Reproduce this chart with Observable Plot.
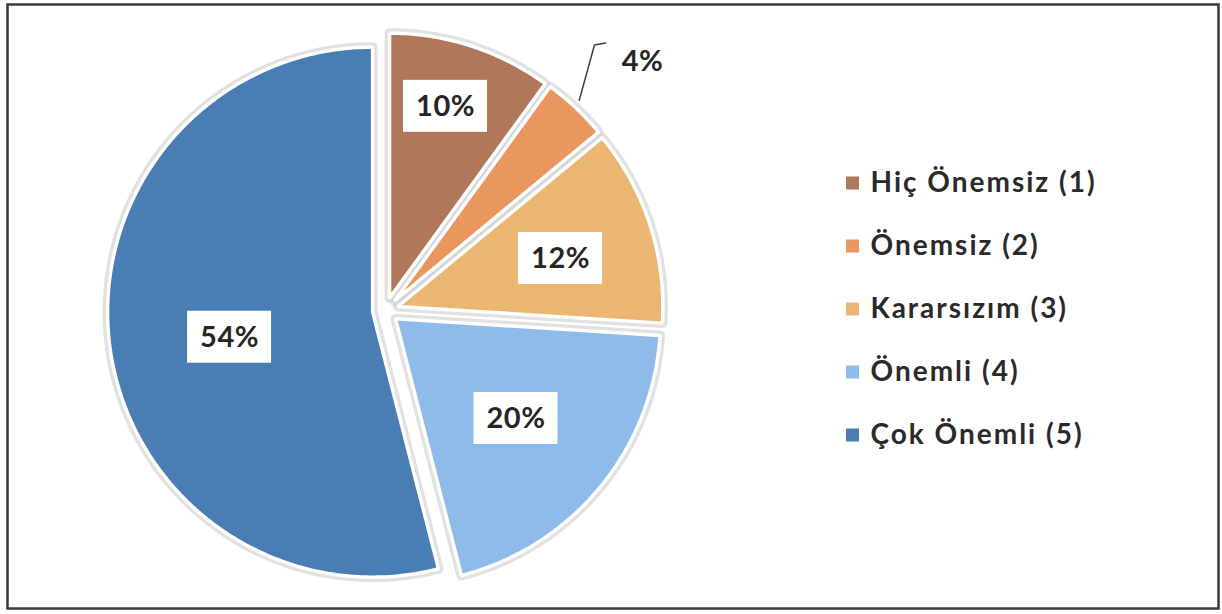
<!DOCTYPE html>
<html>
<head>
<meta charset="utf-8">
<script src="https://cdn.jsdelivr.net/npm/d3@7"></script>
<script src="https://cdn.jsdelivr.net/npm/@observablehq/plot@0.6"></script>
<style>
  html, body { margin: 0; padding: 0; background: #ffffff; }
  #chart svg { display: block; }
</style>
</head>
<body>
<div id="chart"></div>
<script>
// ---- Data ----
const categories = ["Hiç Önemsiz (1)", "Önemsiz (2)", "Kararsızım (3)", "Önemli (4)", "Çok Önemli (5)"];
const values = [10, 4, 12, 20, 54];
const valueLabels = ["10%", "4%", "12%", "20%", "54%"];
const colors = ["#b0775a", "#e9975f", "#eab671", "#8fbbea", "#4a7db3"];

// ---- Layout ----
const W = 1222, H = 614;
const cx = 385, cy = 310, R = 265, explode = 13;
const labelRadius = [0.754, null, 0.64, 0.59, 0.548]; // fraction of radius for inside labels
const labelTurn = [-0.03, 0, 0.027, 0, -0.048];       // small angular nudges (radians)
const FONT = "Lato, 'Open Sans', sans-serif";

const arcs = d3.pie().sort(null).value(d => d)(values);

const slicePoints = [];
const sliceInfo = arcs.map((a, i) => {
  const mid = (a.startAngle + a.endAngle) / 2;
  const ox = cx + explode * Math.sin(mid);
  const oy = cy - explode * Math.cos(mid);
  const cat = categories[i];
  slicePoints.push({cat, x: ox, y: oy});
  const n = Math.max(6, Math.ceil((a.endAngle - a.startAngle) / 0.015));
  for (let k = 0; k <= n; k++) {
    const t = a.startAngle + (a.endAngle - a.startAngle) * k / n;
    slicePoints.push({cat, x: ox + R * Math.sin(t), y: oy - R * Math.cos(t)});
  }
  return {cat, mid, ox, oy, label: valueLabels[i]};
});

// inside labels
const insideLabels = sliceInfo
  .map((s, i) => ({...s, f: labelRadius[i], t: s.mid + labelTurn[i]}))
  .filter(s => s.f != null)
  .map(s => ({label: s.label, x: s.ox + s.f * R * Math.sin(s.t), y: s.oy - s.f * R * Math.cos(s.t)}));

// outside label for the small slice
const small = sliceInfo[1];
const outX = small.ox + 1.30 * R * Math.sin(small.mid + 0.05);
const outY = small.oy - 1.30 * R * Math.cos(small.mid + 0.05);
const outsideLabels = [{label: small.label, x: outX, y: outY}];
const leaderStart = {x: small.ox + 1.03 * R * Math.sin(small.mid - 0.01), y: small.oy - 1.03 * R * Math.cos(small.mid - 0.01)};
const leader = [
  leaderStart,
  {x: outX - 48, y: outY - 17},
  {x: outX - 37, y: outY - 19}
];

// legend
const legendRows = categories.map((c, i) => ({cat: c, y: 183 + i * 63}));

const boxW = 84, boxH = 52;

const chart = Plot.plot({
  width: W,
  height: H,
  margin: 0,
  x: {domain: [0, W], range: [0, W], axis: null},
  y: {domain: [0, H], range: [0, H], axis: null},
  color: {domain: categories, range: colors},
  style: {background: "#ffffff"},
  marks: [
    // soft shadow / halo around slices
    Plot.line(slicePoints, {x: "x", y: "y", z: "cat", curve: "linear-closed",
      fill: "#cdcdcd", stroke: "#cdcdcd", strokeWidth: 10, strokeOpacity: 0.6, fillOpacity: 0.8}),
    // slices
    Plot.line(slicePoints, {x: "x", y: "y", z: "cat", curve: "linear-closed",
      fill: "cat", stroke: "#ffffff", strokeWidth: 3.5, strokeLinejoin: "miter"}),
    // label boxes
    Plot.rect(insideLabels, {x1: d => d.x - boxW / 2, x2: d => d.x + boxW / 2,
      y1: d => d.y - boxH / 2, y2: d => d.y + boxH / 2, fill: "#ffffff"}),
    Plot.text(insideLabels, {x: "x", y: "y", text: "label", fill: "#262626",
      fontSize: 29, fontWeight: "bold", fontFamily: FONT}),
    // outside label + leader
    Plot.line(leader, {x: "x", y: "y", stroke: "#404040", strokeWidth: 1.5, curve: "linear"}),
    Plot.text(outsideLabels, {x: "x", y: "y", text: "label", fill: "#262626",
      fontSize: 29, fontWeight: "bold", fontFamily: FONT}),
    // legend
    Plot.rect(legendRows, {x1: 846, x2: 859, y1: d => d.y - 6.5, y2: d => d.y + 6.5, fill: "cat"}),
    Plot.text(legendRows, {x: 870, y: "y", text: "cat", textAnchor: "start", fill: "#2a2a2a",
      fontSize: 28, fontWeight: "bold", fontFamily: FONT, ariaDescription: "legend"}),
    // outer border
    Plot.frame({stroke: "#3a3a3a", strokeWidth: 2.5, insetLeft: 7, insetTop: 4, insetRight: 4, insetBottom: 6})
  ]
});

d3.select(chart).selectAll("g[aria-description=legend] text").style("letter-spacing", "2px");
d3.select(chart).selectAll("text").style("letter-spacing", function() {
  return this.style.letterSpacing || "0.5px";
});

document.getElementById("chart").appendChild(chart);
</script>
</body>
</html>
